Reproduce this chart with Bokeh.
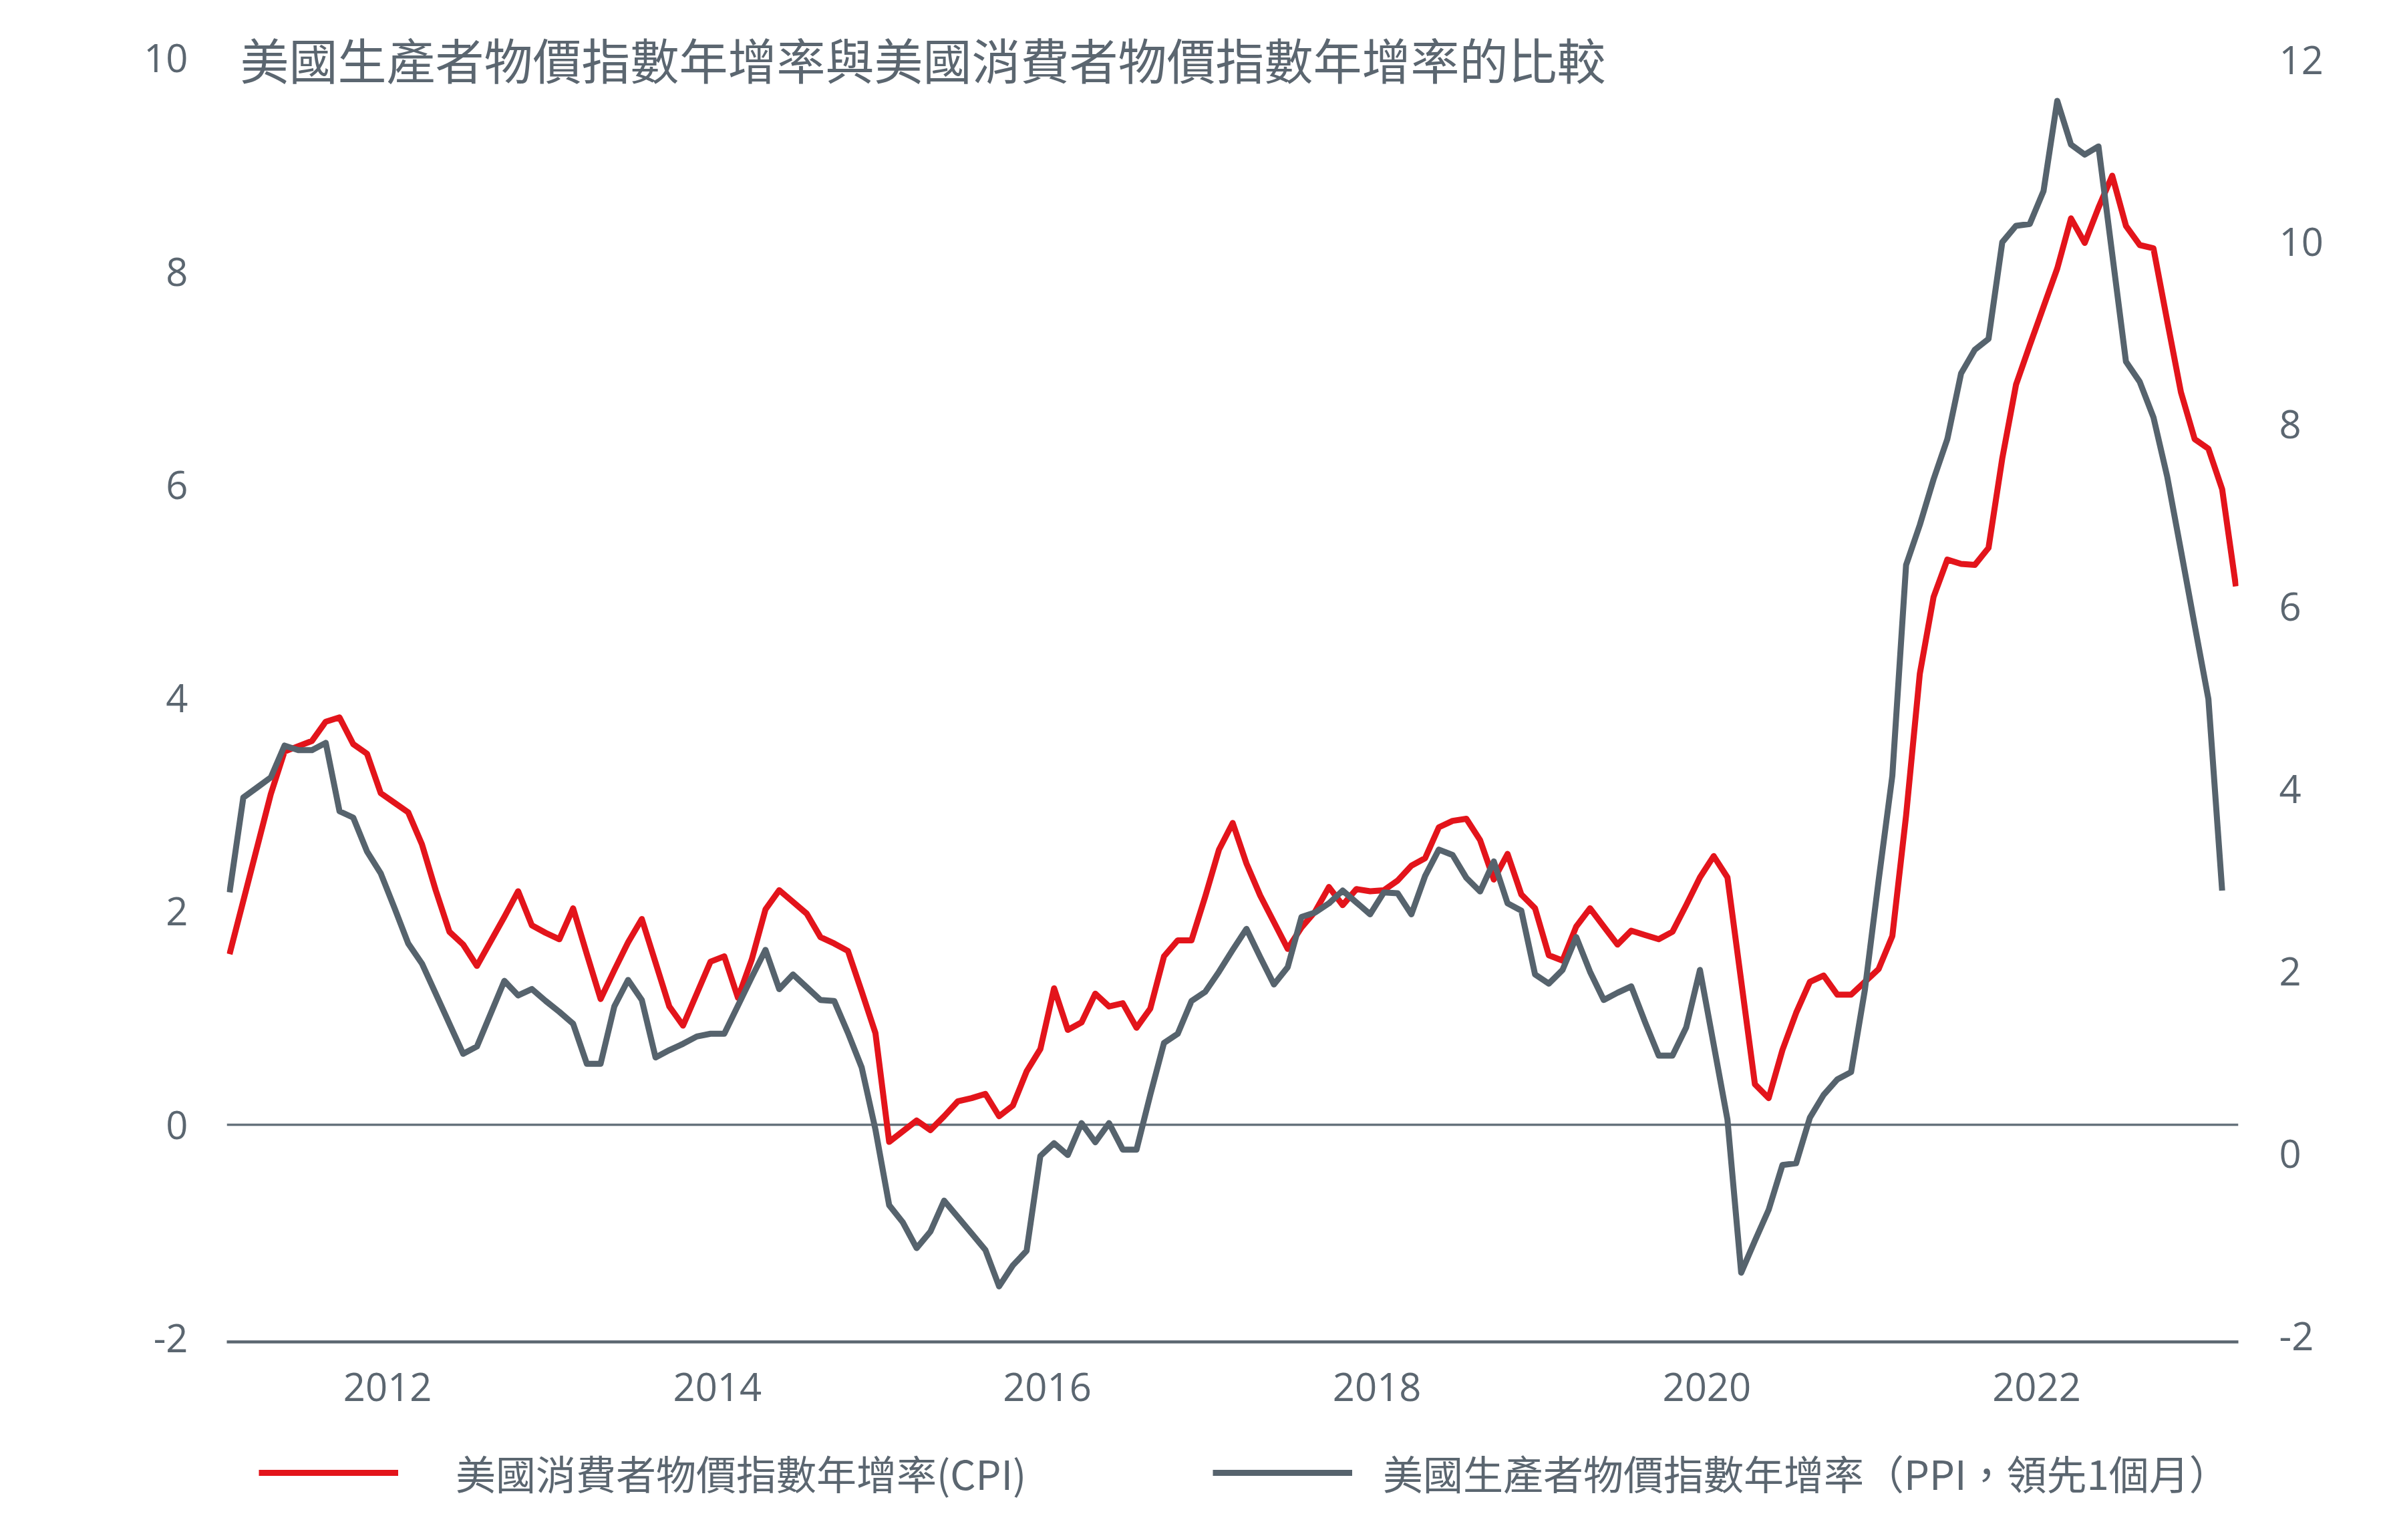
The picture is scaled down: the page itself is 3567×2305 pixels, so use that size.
from bokeh.plotting import figure
from bokeh.layouts import column
from bokeh.models import Range1d, LinearAxis, FixedTicker, Span, Legend, LegendItem, Label
from bokeh.embed import file_html
from bokeh.resources import INLINE

# ---------------- data ----------------
title_text = "美國生產者物價指數年增率與美國消費者物價指數年增率的比較"
cpi_label = "美國消費者物價指數年增率(CPI)"
ppi_label = "美國生產者物價指數年增率（PPI，領先1個月）"

start_year = 2011  # first month: January 2011, monthly data
year_ticks = [2012, 2014, 2016, 2018, 2020, 2022]
left_ticks = [-2, 0, 2, 4, 6, 8, 10]
right_ticks = [-2, 0, 2, 4, 6, 8, 10, 12]

# US CPI YoY (%), Jan 2011 - Mar 2023 (left axis)
cpi = [
    1.6, 2.1, 2.6, 3.1, 3.5, 3.55, 3.6, 3.78, 3.82, 3.57, 3.48, 3.11,
    3.02, 2.93, 2.63, 2.2, 1.81, 1.69, 1.49, 1.72, 1.95, 2.19, 1.87, 1.8,
    1.74, 2.03, 1.6, 1.18, 1.45, 1.71, 1.93, 1.52, 1.11, 0.93, 1.23, 1.53,
    1.58, 1.19, 1.55, 2.02, 2.2, 2.09, 1.98, 1.76, 1.7, 1.63, 1.25, 0.86,
    -0.16, -0.06, 0.04, -0.05, 0.08, 0.22, 0.25, 0.29, 0.08, 0.18, 0.5, 0.71,
    1.28, 0.89, 0.96, 1.23, 1.11, 1.14, 0.91, 1.09, 1.58, 1.73, 1.73, 2.14,
    2.58, 2.83, 2.45, 2.15, 1.9, 1.65, 1.85, 2.0, 2.23, 2.06, 2.21, 2.19,
    2.2, 2.29, 2.43, 2.5, 2.79, 2.85, 2.87, 2.67, 2.3, 2.54, 2.16, 2.03,
    1.59, 1.54, 1.86, 2.03, 1.86, 1.69, 1.82, 1.78, 1.74, 1.81, 2.06, 2.32,
    2.52, 2.32, 1.35, 0.38, 0.25, 0.7, 1.05, 1.34, 1.4, 1.22, 1.22, 1.34,
    1.46, 1.77, 2.9, 4.23, 4.95, 5.3, 5.26, 5.25, 5.41, 6.25, 6.94, 7.31,
    7.67, 8.03, 8.5, 8.27, 8.6, 8.9, 8.43, 8.25, 8.22, 7.54, 6.87, 6.43,
    6.34, 5.96, 5.05,
]

# US PPI YoY (%), one month lead, Jan 2011 - Feb 2023 (right axis)
ppi = [
    2.87, 3.91, 4.02, 4.13, 4.48, 4.43, 4.43, 4.51, 3.76, 3.69, 3.32, 3.08,
    2.7, 2.31, 2.09, 1.76, 1.43, 1.1, 1.18, 1.54, 1.9, 1.74, 1.81, 1.68,
    1.56, 1.43, 0.99, 0.99, 1.62, 1.91, 1.69, 1.06, 1.14, 1.21, 1.29, 1.32,
    1.32, 1.63, 1.94, 2.24, 1.81, 1.97, 1.83, 1.69, 1.68, 1.33, 0.95, 0.27,
    -0.56, -0.75, -1.03, -0.85, -0.51, -0.69, -0.87, -1.05, -1.45, -1.22, -1.06, -0.02,
    0.12, -0.01, 0.34, 0.13, 0.34, 0.05, 0.05, 0.65, 1.22, 1.32, 1.68, 1.78,
    2.0, 2.24, 2.47, 2.16, 1.86, 2.05, 2.6, 2.65, 2.75, 2.89, 2.76, 2.63,
    2.87, 2.86, 2.63, 3.05, 3.34, 3.28, 3.03, 2.88, 3.21, 2.75, 2.67, 1.97,
    1.87, 2.02, 2.38, 2.0, 1.69, 1.77, 1.84, 1.45, 1.08, 1.08, 1.39, 2.02,
    1.2, 0.38, -1.3, -0.95, -0.61, -0.12, -0.1, 0.4, 0.65, 0.82, 0.9, 1.8,
    3.0, 4.15, 6.46, 6.9, 7.4, 7.84, 8.56, 8.82, 8.94, 10.0, 10.18, 10.2,
    10.56, 11.55, 11.07, 10.96, 11.05, 9.87, 8.69, 8.47, 8.08, 7.43, 6.62, 5.8,
    4.99, 2.89,
]

# month positions (mid-month, in decimal years)
cpi_x = [start_year + (i + 0.5) / 12 for i in range(len(cpi))]
ppi_x = [start_year + (i + 0.5) / 12 for i in range(len(ppi))]

# ---------------- style ----------------
RED = "#e3141b"
GREY = "#56636d"
TEXT = "#5b6670"
AXIS = "#5b6670"
LINE_W = 9

p = figure(
    frame_width=3011, frame_height=1968,
    output_backend="svg", toolbar_location=None,
    x_range=Range1d(2011.025, 2023.2233),
    y_range=Range1d(-2.036, 10.294),
    min_border_left=339, min_border_right=217,
    min_border_top=40, min_border_bottom=142,
)
p.extra_y_ranges = {"ppi": Range1d(-2.059, 12.359)}
p.outline_line_color = None
p.xgrid.visible = False
p.ygrid.visible = False
p.background_fill_color = "white"
p.border_fill_color = "white"

# x axis
xa = p.xaxis[0]
xa.ticker = FixedTicker(ticks=year_ticks)
xa.axis_line_color = AXIS
xa.axis_line_width = 4.5
xa.major_tick_line_color = None
xa.minor_tick_line_color = None
xa.major_label_text_font = "Open Sans"
xa.major_label_text_font_size = "58px"
xa.major_label_text_color = TEXT
xa.major_label_standoff = 40

# left axis
ya = p.yaxis[0]
ya.ticker = FixedTicker(ticks=left_ticks)
ya.major_label_overrides = {t: str(t) for t in left_ticks}
ya.axis_line_color = None
ya.major_tick_line_color = None
ya.minor_tick_line_color = None
ya.major_label_text_font = "Open Sans"
ya.major_label_text_font_size = "58px"
ya.major_label_text_color = TEXT
ya.major_label_standoff = 52

# right axis
ra = LinearAxis(y_range_name="ppi", ticker=FixedTicker(ticks=right_ticks))
ra.major_label_overrides = {t: str(t) for t in right_ticks}
ra.axis_line_color = None
ra.major_tick_line_color = None
ra.minor_tick_line_color = None
ra.major_label_text_font = "Open Sans"
ra.major_label_text_font_size = "58px"
ra.major_label_text_color = TEXT
ra.major_label_standoff = 55
p.add_layout(ra, "right")

# zero line
p.add_layout(Span(location=0, dimension="width", line_color="#66727b",
                  line_width=3.5, level="underlay"))

p.line(cpi_x, cpi, line_color=RED, line_width=LINE_W, line_join="round")
p.line(ppi_x, ppi, y_range_name="ppi", line_color=GREY,
       line_width=LINE_W, line_join="round")

# title inside the plot area, level with the top tick
p.add_layout(Label(x=2011.106, y=10, text=title_text,
                   text_font="Noto Sans CJK TC", text_font_size="73px",
                   text_color=TEXT, text_baseline="middle", text_align="left"))

# ---------------- legend strip under the chart ----------------
# The strip shares the x range; its y range lies far above the data, so its
# two series renderers only serve as legend keys and draw nothing visible.
lg = figure(width=3567, height=155, output_backend="svg", toolbar_location=None,
            x_range=p.x_range, y_range=Range1d(1000, 1001),
            x_axis_location=None, y_axis_location=None, min_border=0)
lg.outline_line_color = None
lg.grid.visible = False
lg.background_fill_color = "white"
lg.border_fill_color = "white"
k_cpi = lg.line(cpi_x, cpi, line_color=RED, line_width=LINE_W)
k_ppi = lg.line(ppi_x, ppi, line_color=GREY, line_width=LINE_W)

common = dict(
    orientation="horizontal", glyph_width=209, glyph_height=60,
    padding=0, margin=0, border_line_color=None, background_fill_alpha=0,
    label_text_font="Noto Sans CJK TC", label_text_font_size="60px",
    label_text_color=TEXT,
)
lg.add_layout(Legend(items=[LegendItem(label=cpi_label, renderers=[k_cpi])],
                     location=(48, 58), label_standoff=86, **common))
lg.add_layout(Legend(items=[LegendItem(label=ppi_label, renderers=[k_ppi])],
                     location=(1476, 58), label_standoff=46, **common))

layout = column(p, lg, spacing=0)
open("out.html", "w").write(file_html(layout, INLINE))
